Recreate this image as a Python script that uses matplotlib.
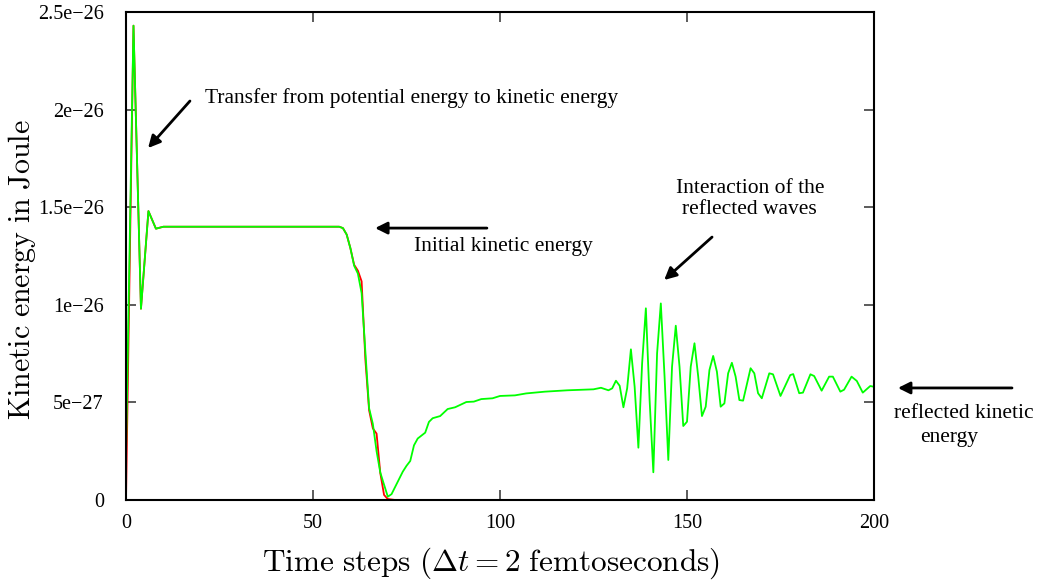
import matplotlib
matplotlib.use("Agg")
import matplotlib.pyplot as plt
from matplotlib.ticker import FixedLocator, FixedFormatter

plt.rcParams['mathtext.fontset'] = 'cm'

SCALE = 1e-27

green_x = [0, 2, 4, 6, 8, 10, 57, 58, 59, 60, 61, 62, 63, 64, 65, 66, 67, 68, 70, 71,
           74, 75, 76, 77, 78, 80, 81, 82, 84, 86, 88, 91, 93, 95, 98, 100, 104, 107,
           112, 118, 125, 127, 129, 130, 131, 132, 133, 134, 135, 136, 137, 138, 139,
           140, 141, 142, 143, 144, 145, 146, 147, 148, 149, 150, 151, 152, 153, 154,
           155, 156, 157, 158, 159, 160, 161, 162, 163, 164, 165, 167, 168, 169, 170,
           172, 173, 175, 177.6, 178.4, 180, 181, 183, 184, 186, 188, 189, 191, 192,
           194, 195.4, 197, 199, 200]
green_y = [2.3, 24.3, 9.8, 14.8, 13.9, 14.0, 14.0, 13.93, 13.6, 12.9, 12.0, 11.6, 10.6,
           7.6, 4.7, 3.9, 2.5, 1.4, 0.17, 0.3,
           1.45, 1.75, 2.0, 2.8, 3.15, 3.45, 4.0, 4.19, 4.3, 4.66, 4.75, 5.02, 5.04, 5.17,
           5.21, 5.33, 5.36, 5.46, 5.55, 5.62, 5.67, 5.75, 5.62, 5.72, 6.11, 5.85, 4.75,
           5.72, 7.72, 5.8, 2.68, 7.0, 9.82, 5.12, 1.42, 7.51, 10.07, 6.32, 2.05, 6.83,
           8.93, 6.83, 3.79, 4.01, 6.83, 8.03, 6.32, 4.3, 4.78, 6.66, 7.38, 6.57, 4.78,
           4.95, 6.49, 7.03, 6.32, 5.12, 5.09, 6.75, 6.49, 5.47, 5.21, 6.49, 6.44, 5.33,
           6.4, 6.45, 5.47, 5.5, 6.44, 6.35, 5.6, 6.32, 6.32, 5.55, 5.65, 6.32, 6.1, 5.5,
           5.84, 5.8]

red_x = [0, 2, 4, 6, 8, 10, 57, 58, 59, 60, 61, 62, 63, 64, 65, 66, 67, 68, 69, 70, 72, 200]
red_y = [0.0, 24.3, 9.8, 14.8, 13.9, 14.0, 14.0, 13.93, 13.6, 12.9, 12.05, 11.75, 11.2,
         7.2, 4.6, 3.67, 3.4, 1.37, 0.26, 0.05, 0.0, 0.0]

x_ticks = [0, 50, 100, 150, 200]
y_ticks = [0, 5e-27, 1e-26, 1.5e-26, 2e-26, 2.5e-26]
y_tick_labels = ['0', '5e\u221227', '1e\u221226', '1.5e\u221226', '2e\u221226', '2.5e\u221226']

fig = plt.figure(figsize=(10.37, 5.85), dpi=100)
ax = fig.add_axes([126/1037, 1 - 500/585, (874-126)/1037, (500-12)/585])

ax.plot(red_x, [v*SCALE for v in red_y], color='#ff0000', lw=1.3)
ax.plot(green_x, [v*SCALE for v in green_y], color='#00ff00', lw=1.3)

ax.set_xlim(0, 200)
ax.set_ylim(0, 2.5e-26)
ax.xaxis.set_major_locator(FixedLocator(x_ticks))
ax.yaxis.set_major_locator(FixedLocator(y_ticks))
ax.yaxis.set_major_formatter(FixedFormatter(y_tick_labels))
ax.set_xticklabels([str(t) for t in x_ticks])
ax.tick_params(direction='in', length=7, width=1.2, color='0.25',
               top=True, right=True, labelsize=14.5)
ax.tick_params(axis='y', pad=16)
ax.tick_params(axis='x', pad=10)
for lab in ax.get_xticklabels() + ax.get_yticklabels():
    lab.set_fontfamily('Liberation Serif')
for s in ax.spines.values():
    s.set_linewidth(1.5)

fig.text(22/1037, 1 - 270/585, r'$\mathrm{Kinetic\ energy\ in\ Joule}$', fontsize=21.5,
         rotation=90, ha='center', va='center')
fig.text(491/1037, 1 - 563/585, r'$\mathrm{Time\ steps\ (}\Delta t = 2\mathrm{\ femtoseconds)}$',
         fontsize=22.5, ha='center', va='center')

tfont = dict(fontfamily='Liberation Serif', fontsize=15.5)
arrow = dict(arrowstyle='-|>', lw=2, color='black', mutation_scale=18, shrinkA=0, shrinkB=0)

ax.annotate('', xy=(5.9, 18.03e-27), xytext=(17.1, 20.44e-27), arrowprops=arrow)
ax.text(21.1, 20.6e-27, 'Transfer from potential energy to kinetic energy', va='center', ha='left', **tfont)

ax.annotate('', xy=(66.6, 13.93e-27), xytext=(96.5, 13.93e-27), arrowprops=arrow)
ax.text(77.0, 13.01e-27, 'Initial kinetic energy', va='center', ha='left', **tfont)

ax.annotate('', xy=(143.9, 11.27e-27), xytext=(156.7, 13.47e-27), arrowprops=arrow)
ax.text(166.8, 15.42e-27, 'Interaction of the\nreflected waves', va='center', ha='center',
        linespacing=1.2, **tfont)

ax.annotate('', xy=(206.4, 5.74e-27), xytext=(236.9, 5.74e-27), arrowprops=arrow,
            annotation_clip=False)
ax.text(205.3, 4.41e-27, 'reflected kinetic', va='center', ha='left', clip_on=False, **tfont)
ax.text(212.3, 3.18e-27, 'energy', va='center', ha='left', clip_on=False, **tfont)

fig.savefig('out.png', dpi=100)
